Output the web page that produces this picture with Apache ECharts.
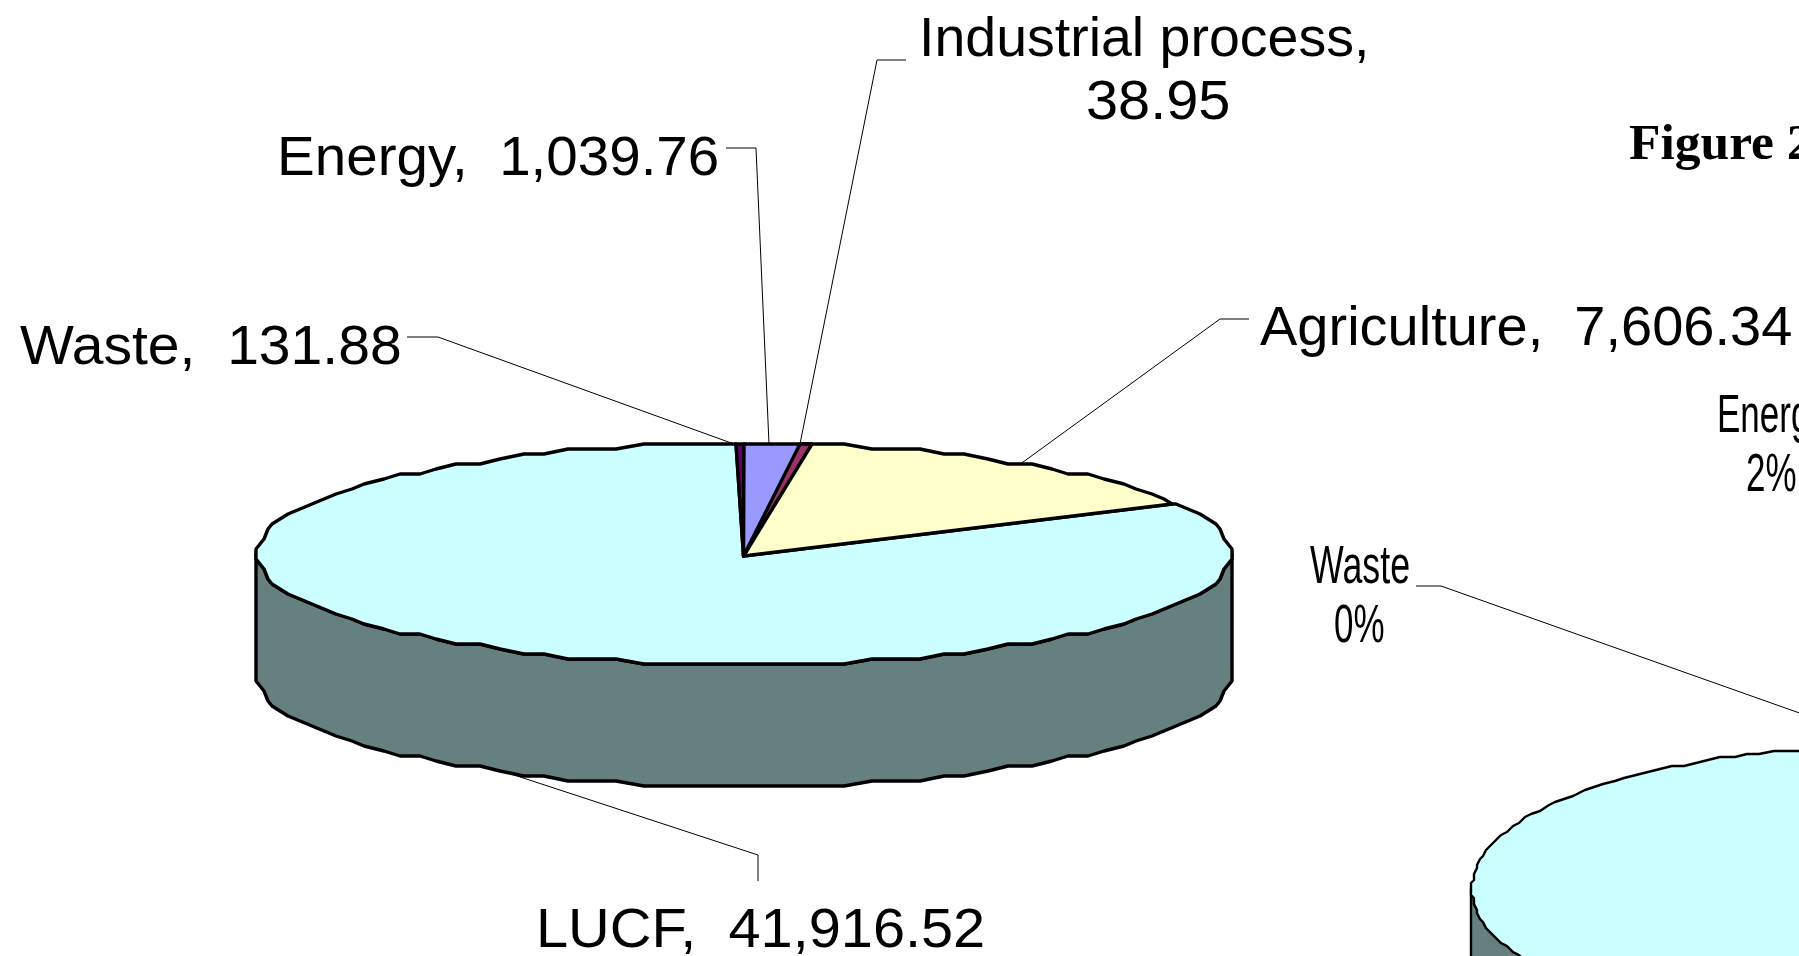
<!DOCTYPE html>
<html>
<head>
<meta charset="utf-8">
<style>html,body{margin:0;padding:0;background:#fff;overflow:hidden}#c{width:1799px;height:956px}</style>
<script src="https://cdn.jsdelivr.net/npm/echarts@6/dist/echarts.min.js"></script>
</head>
<body>
<div id="c"></div>
<script>
// ---- data (clockwise from the top of the pie) ----
const categories = ["Waste", "Energy", "Industrial process", "Agriculture", "LUCF"];
const emissions = [131.88, 1039.76, 38.95, 7606.34, 41916.52];
const figureTitle = "Figure 2";

// ---- styles and layout, kept apart from the data ----
const faceColors = ["#660066", "#9999FF", "#993366", "#FFFFCC", "#CCFFFF"];
const sideColors = ["#330033", "#4D4D80", "#4D1A33", "#808066", "#668080"];
const drawRank = [2, 3, 4, 2, 1];
const MIN_ANGLE = 1.4;
const pies = [
  {cx: 744, cy: 554, ax: 743.5, ay: 556, rx: 487, ry: 110, h: 122, lw: 3.4, step: 3, qx: 4, qy: 5},
  {cx: 1870, cy: 889, ax: 1870, ay: 889, rx: 398, ry: 141, h: 122, lw: 2.4, step: 2, qx: 3, qy: 3}
];
const leaderPaths = [
  [[407, 337], [438, 337], [734, 444]],
  [[726, 148], [756, 148], [769, 444]],
  [[906, 60], [877, 60], [800, 444]],
  [[1249, 319], [1220, 319], [1019, 465]],
  [[758, 881], [758, 855], [505, 772]],
  [[1416, 586], [1441, 586], [1870, 738]]
];
const total = emissions.reduce((a, b) => a + b, 0);
const fmt = v => v.toLocaleString("en-US", {minimumFractionDigits: 2, maximumFractionDigits: 2});
const pct = v => Math.round(v / total * 100) + "%";
const BIG = '55.5px "Liberation Sans"';
const THIN = '53px "Liberation Sans"';
const labelLayout = [
  {t: categories[0] + ",  " + fmt(emissions[0]), x: 20, y: 371, f: BIG, sx: 1.028},
  {t: categories[1] + ",  " + fmt(emissions[1]), x: 277, y: 182, f: BIG, sx: 1.019},
  {t: categories[2] + ",", x: 919, y: 63, f: BIG, sx: 1},
  {t: fmt(emissions[2]), x: 1086, y: 126, f: BIG, sx: 1.04},
  {t: categories[3] + ",  " + fmt(emissions[3]), x: 1260, y: 352, f: BIG, sx: 1.009},
  {t: categories[4] + ",  " + fmt(emissions[4]), x: 536, y: 954, f: BIG, sx: 1.04},
  {t: categories[0], x: 1310, y: 590, f: THIN, sx: 0.675},
  {t: pct(emissions[0]), x: 1334, y: 649, f: THIN, sx: 0.66},
  {t: categories[1], x: 1717, y: 439, f: THIN, sx: 0.66},
  {t: pct(emissions[1]), x: 1746, y: 498, f: THIN, sx: 0.66},
  {t: figureTitle, x: 1629, y: 166, f: 'bold 51px "Liberation Serif"', sx: 1.01}
];

// ---- angles: true shares, very thin slices widened like a pie's minAngle ----
const spans = (function () {
  let a = -emissions[0] / total * 360;
  return emissions.map(v => {
    const w = v / total * 360, mid = a + w / 2;
    const d = Math.max(w, MIN_ANGLE) / 2;
    a += w;
    return [mid - d, mid + d];
  });
})();

function rim(p, deg, dy) {
  const r = deg * Math.PI / 180;
  const x = Math.round(p.rx * Math.sin(r) / p.qx) * p.qx;
  const y = Math.round(-p.ry * Math.cos(r) / p.qy) * p.qy;
  return [p.cx + x, p.cy + y + (dy || 0)];
}
function arc(p, a0, a1, dy) {
  const pts = [rim(p, a0, dy)];
  for (let d = Math.ceil(a0 / p.step) * p.step; d < a1; d += p.step) {
    if (d > a0) pts.push(rim(p, d, dy));
  }
  pts.push(rim(p, a1, dy));
  return pts;
}
function sideItem(p) {
  return function (params, api) {
    const i = api.value(0), s = spans[i];
    const a0 = Math.max(s[0], 90), a1 = Math.min(s[1], 270);
    if (a1 <= a0) return {type: "group", children: []};
    const pts = arc(p, a0, a1, 0).concat(arc(p, a0, a1, p.h).reverse());
    return {type: "polygon", shape: {points: pts},
      style: {fill: sideColors[i], stroke: "#000", lineWidth: p.lw, lineJoin: "round"}};
  };
}
function topItem(p) {
  return function (params, api) {
    const i = api.value(0), s = spans[i];
    const pts = [[p.ax, p.ay]].concat(arc(p, s[0], s[1], 0));
    return {type: "polygon", z2: drawRank[i], shape: {points: pts},
      style: {fill: faceColors[i], stroke: "#000", lineWidth: p.lw, lineJoin: "round"}};
  };
}
const rows = categories.map((c, i) => [i, emissions[i], c]);
const pieSeries = [];
pies.forEach(p => {
  pieSeries.push({type: "custom", coordinateSystem: "none", z: 2, clip: false, silent: true, data: rows, renderItem: sideItem(p)});
  pieSeries.push({type: "custom", coordinateSystem: "none", z: 3, clip: false, silent: true, data: rows, renderItem: topItem(p)});
});
const leaderSeries = {
  type: "custom", coordinateSystem: "none", z: 1, silent: true,
  data: leaderPaths.map((_, i) => [i]),
  renderItem: (params, api) => ({type: "polyline", shape: {points: leaderPaths[api.value(0)]},
    style: {fill: null, stroke: "#000", lineWidth: 1}})
};
const labelSeries = {
  type: "custom", coordinateSystem: "none", z: 4, silent: true,
  data: labelLayout.map((_, i) => [i]),
  renderItem: (params, api) => {
    const l = labelLayout[api.value(0)];
    const size = parseFloat(l.f.match(/([\d.]+)px/)[1]);
    return {type: "text", x: l.x, y: l.y - size * 0.905, scaleX: l.sx, originX: 0,
      style: {text: l.t, font: l.f, fill: "#000", align: "left", verticalAlign: "top"}};
  }
};
const chart = echarts.init(document.getElementById("c"), null, {renderer: "canvas"});
chart.setOption({
  animation: false,
  backgroundColor: "#fff",
  series: pieSeries.concat([leaderSeries, labelSeries])
});
</script>
</body>
</html>
